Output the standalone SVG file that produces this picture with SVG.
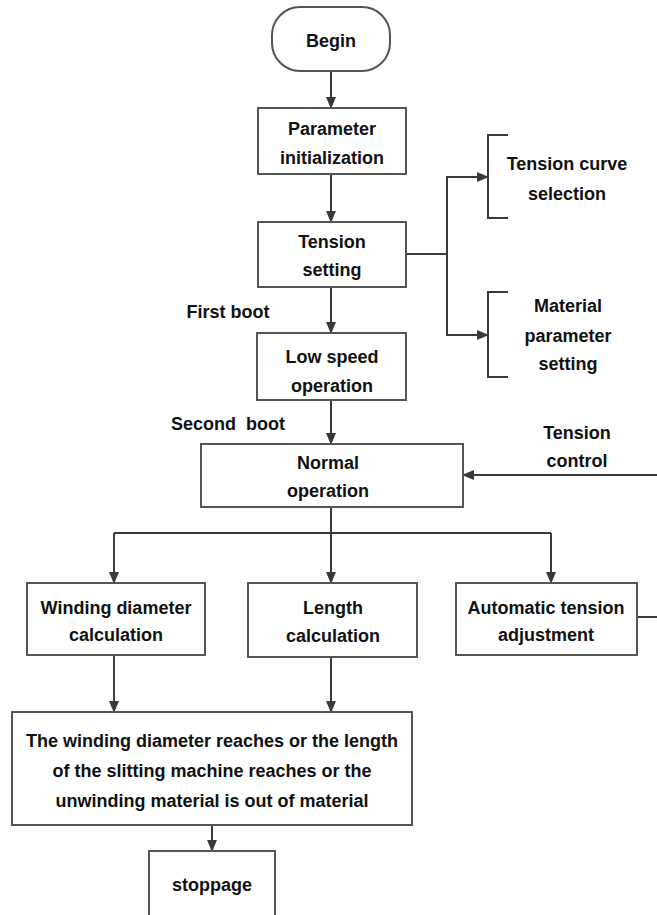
<svg xmlns="http://www.w3.org/2000/svg" width="657" height="915" viewBox="0 0 657 915">
<defs>
<marker id="ah" markerWidth="12" markerHeight="10" refX="11" refY="5" orient="auto" markerUnits="userSpaceOnUse">
<path d="M0,0 L12,5 L0,10 Z" fill="#3a3a3a"/>
</marker>
<style>
.box{fill:#fff;stroke:#555;stroke-width:2}
.t{font-family:"Liberation Sans",Arial,sans-serif;font-weight:bold;font-size:18px;fill:#111;text-anchor:middle}
.c{fill:none;stroke:#3a3a3a;stroke-width:2}
.ca{fill:none;stroke:#3a3a3a;stroke-width:2;marker-end:url(#ah)}
</style>
</defs>
<rect width="657" height="915" fill="#fff"/>
<g id="connectors">
<path class="ca" d="M331,71 V108"/>
<path class="ca" d="M331,174 V222"/>
<path class="c" d="M406,254 H447"/>
<path class="ca" d="M447,254 V177 H488"/>
<path class="ca" d="M447,254 V335 H488"/>
<path class="ca" d="M331,287 V333"/>
<path class="ca" d="M331,400 V444"/>
<path class="ca" d="M660,475 H463"/>
<path class="c" d="M331,507 V533"/>
<path class="c" d="M114,533 H551"/>
<path class="ca" d="M114,533 V583"/>
<path class="ca" d="M331,533 V583"/>
<path class="ca" d="M551,533 V583"/>
<path class="c" d="M637,617 H660"/>
<path class="ca" d="M114,655 V712"/>
<path class="ca" d="M331,657 V712"/>
<path class="ca" d="M212,825 V851"/>
</g>
<g id="begin">
<rect x="272" y="7" width="118" height="64" rx="28" ry="28" class="box"/>
<text class="t" x="331" y="47">Begin</text>
</g>
<g id="param-init">
<rect x="258" y="108" width="148" height="66" class="box"/>
<text class="t" x="332" y="135">Parameter</text>
<text class="t" x="332" y="164">initialization</text>
</g>
<g id="tension-setting">
<rect x="258" y="222" width="148" height="65" class="box"/>
<text class="t" x="332" y="248">Tension</text>
<text class="t" x="332" y="276">setting</text>
</g>
<g id="tension-curve">
<path class="c" d="M508,135 H488 V218 H508"/>
<text class="t" x="567" y="170">Tension curve</text>
<text class="t" x="567" y="200">selection</text>
</g>
<g id="material-param">
<path class="c" d="M508,292 H488 V377 H508"/>
<text class="t" x="568" y="312">Material</text>
<text class="t" x="568" y="342">parameter</text>
<text class="t" x="568" y="370">setting</text>
</g>
<g id="first-boot">
<text class="t" x="228" y="318">First boot</text>
</g>
<g id="low-speed">
<rect x="257" y="333" width="149" height="67" class="box"/>
<text class="t" x="332" y="363">Low speed</text>
<text class="t" x="332" y="392">operation</text>
</g>
<g id="second-boot">
<text class="t" x="228" y="430" xml:space="preserve">Second  boot</text>
</g>
<g id="tension-control">
<text class="t" x="577" y="439">Tension</text>
<text class="t" x="577" y="467">control</text>
</g>
<g id="normal-op">
<rect x="201" y="444" width="262" height="63" class="box"/>
<text class="t" x="328" y="469">Normal</text>
<text class="t" x="328" y="497">operation</text>
</g>
<g id="winding-calc">
<rect x="27" y="583" width="178" height="72" class="box"/>
<text class="t" x="116" y="614">Winding diameter</text>
<text class="t" x="116" y="641">calculation</text>
</g>
<g id="length-calc">
<rect x="248" y="583" width="169" height="74" class="box"/>
<text class="t" x="333" y="614">Length</text>
<text class="t" x="333" y="642">calculation</text>
</g>
<g id="auto-tension">
<rect x="456" y="583" width="181" height="72" class="box"/>
<text class="t" x="546" y="614">Automatic tension</text>
<text class="t" x="546" y="641">adjustment</text>
</g>
<g id="condition">
<rect x="12" y="712" width="400" height="113" class="box"/>
<text class="t" x="212" y="747">The winding diameter reaches or the length</text>
<text class="t" x="212" y="777">of the slitting machine reaches or the</text>
<text class="t" x="212" y="807">unwinding material is out of material</text>
</g>
<g id="stoppage">
<rect x="149" y="851" width="126" height="80" class="box"/>
<text class="t" x="212" y="891">stoppage</text>
</g>
</svg>
